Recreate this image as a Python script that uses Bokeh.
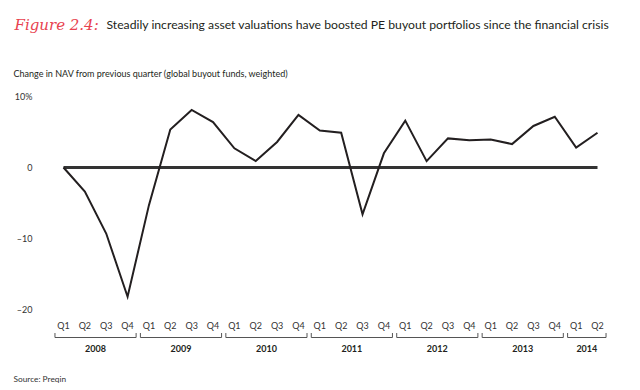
from bokeh.plotting import figure
from bokeh.models import Range1d
from bokeh.core.properties import value
from bokeh.embed import file_html
from bokeh.resources import INLINE

# ---- data ----
years = ["2008", "2009", "2010", "2011", "2012", "2013", "2014"]
quarters_per_year = [4, 4, 4, 4, 4, 4, 2]
quarter_labels = ["Q1", "Q2", "Q3", "Q4"] * 6 + ["Q1", "Q2"]
nav_change = [0.0, -3.4, -9.3, -18.2, -5.3, 5.35, 8.1, 6.4, 2.7, 0.9, 3.6, 7.4,
              5.2, 4.9, -6.6, 2.0, 6.6, 0.9, 4.1, 3.85, 3.95, 3.3, 5.85, 7.15,
              2.8, 4.9]
y_ticks = [10, 0, -10, -20]
y_tick_labels = ["10%", "0", "\u201310", "\u201320"]

title_fig = "Figure 2.4:"
title_text = ("Steadily increasing asset valuations have boosted PE buyout "
              "portfolios since the financial crisis")
subtitle = "Change in NAV from previous quarter (global buyout funds, weighted)"
source = "Source: Preqin"

# ---- layout helpers (screen pixel -> data) ----
X0, DX = 63.0, 21.36     # screen x of first quarter, px per quarter
Y0, KY = 167.0, 7.1      # screen y of zero, px per percentage point
OFF = 0                  # page offset of the figure
def dx(px):
    return (px - X0) / DX
def dy(py):
    return (Y0 - py) / KY

W, H = 640, 390
p = figure(width=W, height=H, output_backend="svg", toolbar_location=None,
           x_range=Range1d(dx(OFF), dx(OFF + W)),
           y_range=Range1d(dy(OFF + H), dy(OFF)),
           min_border=0)
p.axis.visible = False
p.grid.visible = False
p.outline_line_color = None
p.background_fill_color = "white"

FONT = value("Lato")
idx = list(range(len(nav_change)))

# zero line
p.line([idx[0], idx[-1]], [0, 0], line_color="#333333", line_width=3)
# data line
p.line(idx, nav_change, line_color="#231f20", line_width=2, line_join="miter")

# y tick labels
p.text(x=[dx(32)] * len(y_ticks), y=y_ticks, text=y_tick_labels,
       text_font=FONT, text_font_size="9px", text_color="#333333",
       text_align="right", text_baseline="middle")

# quarter labels
p.text(x=idx, y=[dy(325)] * len(idx), text=quarter_labels,
       text_font=FONT, text_font_size="9px", text_color="#333333",
       text_align="center", text_baseline="middle")

# brackets and year labels
bx, by, yc = [], [], []
start = 0
for n in quarters_per_year:
    end = start + n - 1
    x0, x1 = start - 0.4, end + 0.4
    bx.append([x0, x0, x1, x1])
    by.append([dy(332.5), dy(337), dy(337), dy(332.5)])
    yc.append((start + end) / 2)
    start += n
p.multi_line(bx, by, line_color="#555555", line_width=1)
p.text(x=yc, y=[dy(347.5)] * len(yc), text=years,
       text_font=FONT, text_font_size="9px", text_font_style="bold",
       text_color="#231f20", text_align="center", text_baseline="middle")

# titles
p.text(x=[dx(14)], y=[dy(24)], text=[title_fig],
       text_font=value("DejaVu Serif"), text_font_size="15px",
       text_font_style="italic", text_color="#e8424f",
       text_align="left", text_baseline="alphabetic")
p.text(x=[dx(106)], y=[dy(24)], text=[title_text],
       text_font=FONT, text_font_size="12.2px", text_color="#231f20",
       text_align="left", text_baseline="alphabetic")
p.text(x=[dx(13)], y=[dy(73)], text=[subtitle],
       text_font=FONT, text_font_size="9px", text_color="#231f20",
       text_align="left", text_baseline="alphabetic")
p.text(x=[dx(13)], y=[dy(378)], text=[source],
       text_font=FONT, text_font_size="8.3px", text_color="#333333",
       text_align="left", text_baseline="middle")

open("out.html", "w").write(file_html(p, INLINE))
